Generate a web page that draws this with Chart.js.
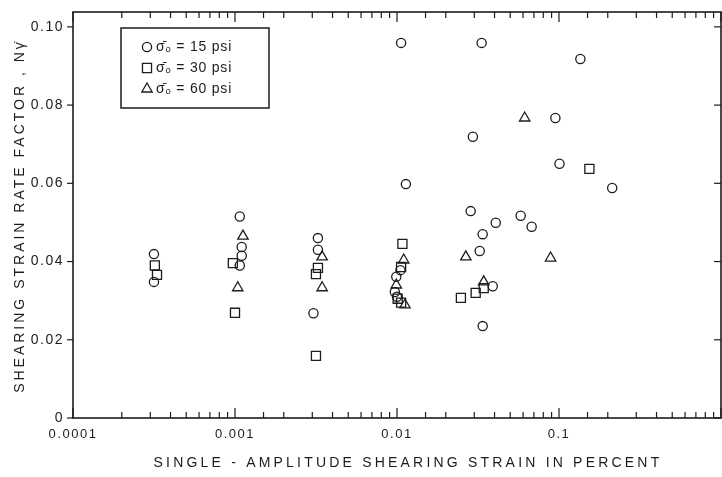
<!DOCTYPE html>
<html>
<head>
<meta charset="utf-8">
<script src="https://cdn.jsdelivr.net/npm/chart.js@4/dist/chart.umd.min.js"></script>
<style>
  body { margin: 0; background: #fff; }
  #wrap { width: 722px; height: 477px; }
</style>
</head>
<body>
<div id="wrap"><canvas id="chart" width="722" height="477"></canvas></div>
<script>
// strain (percent) and N-gamma-dot values
var psi15_x = [0.000316, 0.000316, 0.00107, 0.00110, 0.00110, 0.00107, 0.00325, 0.00325, 0.00305,
               0.0105, 0.0099, 0.0097, 0.0100, 0.0106, 0.01135,
               0.0333, 0.0294, 0.0285, 0.0407, 0.0338, 0.0324, 0.039, 0.0338, 0.058, 0.0678,
               0.095, 0.1007, 0.1355, 0.213];
var psi15_y = [0.0419, 0.0348, 0.0515, 0.0437, 0.0415, 0.039, 0.046, 0.043, 0.0268,
               0.0378, 0.0361, 0.0322, 0.031, 0.0959, 0.0598,
               0.0959, 0.0719, 0.0529, 0.0499, 0.047, 0.0427, 0.0337, 0.0235, 0.0517, 0.0489,
               0.0767, 0.065, 0.0918, 0.0588];

var psi30_x = [0.00032, 0.00033, 0.00097, 0.00100, 0.00325, 0.00316, 0.00316,
               0.0108, 0.0106, 0.0101, 0.0106, 0.0248, 0.0306, 0.0343, 0.154];
var psi30_y = [0.039, 0.0366, 0.0396, 0.0269, 0.0384, 0.0368, 0.0159,
               0.0445, 0.0386, 0.0305, 0.0295, 0.0307, 0.032, 0.0332, 0.0637];

var psi60_x = [0.00112, 0.00104, 0.00345, 0.00345, 0.0110, 0.0099, 0.0112,
               0.0266, 0.0343, 0.0614, 0.0887];
var psi60_y = [0.0465, 0.0333, 0.0412, 0.0333, 0.0404, 0.034, 0.0289,
               0.0412, 0.0348, 0.0767, 0.0409];

var series_labels = ['\u03C3\u0304\u2092 = 15 psi', '\u03C3\u0304\u2092 = 30 psi', '\u03C3\u0304\u2092 = 60 psi'];
var x_title = 'SINGLE - AMPLITUDE SHEARING STRAIN IN PERCENT';
var y_title = 'SHEARING STRAIN RATE FACTOR , N\u03B3\u0307';

var ink = '#1c1c1c';
var font = '"Liberation Sans", "DejaVu Sans", sans-serif';

function points(xs, ys) {
    return xs.map(function(v, i) { return { x: v, y: ys[i] }; });
}

function is_decade(v) {
    var l = Math.log10(v);
    return Math.abs(l - Math.round(l)) < 1e-9;
}

function line(ctx, x1, y1, x2, y2) {
    ctx.beginPath();
    ctx.moveTo(x1, y1);
    ctx.lineTo(x2, y2);
    ctx.stroke();
}

// keep the tick labels from pushing the plot frame inwards
function no_label_padding(scale) {
    scale.paddingLeft = 0;
    scale.paddingRight = 0;
    scale.paddingTop = 0;
    scale.paddingBottom = 0;
}

var frame = {
    id: 'frame',
    beforeDraw: function(chart) {
        chart.ctx.letterSpacing = '1.5px';
    },
    afterDraw: function(chart) {
        var ctx = chart.ctx, a = chart.chartArea;
        var xs = chart.scales.x, ys = chart.scales.y;
        ctx.save();
        ctx.letterSpacing = '0px';
        ctx.strokeStyle = ink;
        ctx.lineWidth = 1.6;
        ctx.strokeRect(a.left, a.top, a.right - a.left, a.bottom - a.top);
        ctx.lineWidth = 1.2;

        // log ticks pointing into the plot, top and bottom
        xs.ticks.forEach(function(t) {
            var px = xs.getPixelForValue(t.value);
            var len = is_decade(t.value) ? 10 : 6;
            line(ctx, px, a.bottom, px, a.bottom - len);
            line(ctx, px, a.top, px, a.top + len);
        });
        // y ticks: outward on the left, inward on the right
        ys.ticks.forEach(function(t) {
            var py = ys.getPixelForValue(t.value);
            line(ctx, a.left - 6, py, a.left, py);
            line(ctx, a.right - 7, py, a.right, py);
        });

        // legend box
        var bx = 121, by = 28, bw = 148, bh = 80;
        ctx.lineWidth = 1.5;
        ctx.strokeRect(bx, by, bw, bh);
        ctx.font = '14px ' + font;
        ctx.textBaseline = 'middle';
        ctx.textAlign = 'left';
        ctx.letterSpacing = '0.8px';
        chart.data.datasets.forEach(function(ds, i) {
            var ry = by + 19 + i * 21;
            ctx.lineWidth = 1.3;
            ctx.fillStyle = 'rgba(0,0,0,0)';
            Chart.helpers.drawPoint(ctx, {
                pointStyle: ds.pointStyle,
                radius: ds.pointRadius,
                borderWidth: 1.3
            }, bx + 26, ry);
            ctx.fillStyle = ink;
            ctx.fillText(ds.label, bx + 35, ry);
        });

        // axis titles
        ctx.fillStyle = ink;
        ctx.font = '14px ' + font;
        ctx.textAlign = 'center';
        ctx.textBaseline = 'middle';
        ctx.letterSpacing = '3.2px';
        ctx.fillText(x_title, 408, 463);
        ctx.translate(20, 216);
        ctx.rotate(-Math.PI / 2);
        ctx.letterSpacing = '3px';
        ctx.fillText(y_title, 0, 0);
        ctx.restore();
    }
};

var marker = {
    borderColor: ink,
    backgroundColor: 'rgba(0,0,0,0)',
    borderWidth: 1.3
};

new Chart(document.getElementById('chart'), {
    type: 'scatter',
    data: {
        datasets: [
            Object.assign({ label: series_labels[0], data: points(psi15_x, psi15_y), pointStyle: 'circle', pointRadius: 4.6 }, marker),
            Object.assign({ label: series_labels[1], data: points(psi30_x, psi30_y), pointStyle: 'rect', pointRadius: 6.4 }, marker),
            Object.assign({ label: series_labels[2], data: points(psi60_x, psi60_y), pointStyle: 'triangle', pointRadius: 6 }, marker)
        ]
    },
    options: {
        responsive: false,
        maintainAspectRatio: false,
        animation: false,
        layout: { autoPadding: false, padding: { top: 12, right: 1, bottom: 0, left: 0 } },
        plugins: {
            legend: { display: false },
            tooltip: { enabled: false }
        },
        scales: {
            x: {
                type: 'logarithmic',
                min: 0.0001,
                max: 1,
                grid: { display: false, drawTicks: false },
                border: { display: false },
                afterFit: function(scale) {
                    scale.height = 59;
                    no_label_padding(scale);
                },
                ticks: {
                    autoSkip: false,
                    maxRotation: 0,
                    padding: 9,
                    color: ink,
                    font: { family: font, size: 13 },
                    callback: function(v) {
                        if (!is_decade(v) || v >= 1) return '';
                        return String(v);
                    }
                }
            },
            y: {
                min: 0,
                max: 0.1038,
                grid: { display: false, drawTicks: false },
                border: { display: false },
                afterFit: function(scale) {
                    scale.width = 73;
                    no_label_padding(scale);
                },
                ticks: {
                    stepSize: 0.02,
                    includeBounds: false,
                    padding: 9,
                    color: ink,
                    font: { family: font, size: 14 },
                    callback: function(v) {
                        return v === 0 ? '0' : v.toFixed(2);
                    }
                }
            }
        }
    },
    plugins: [frame]
});
</script>
</body>
</html>
